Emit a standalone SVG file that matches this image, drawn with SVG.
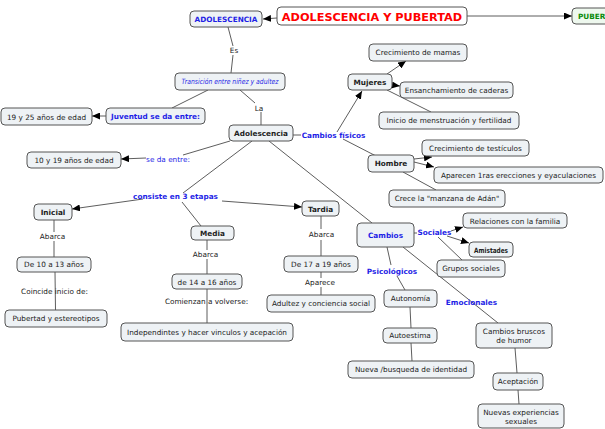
<svg xmlns="http://www.w3.org/2000/svg" width="605" height="429" viewBox="0 0 605 429">
<defs>
<marker id="arr" markerUnits="userSpaceOnUse" markerWidth="8" markerHeight="7" refX="8" refY="3.5" orient="auto">
<path d="M0,0 L8,3.5 L0,7 z" fill="#000"/>
</marker>
<style>
.n rect{fill:#eef2f5;stroke:#555;stroke-width:1}
.n text,.lb{font-family:"DejaVu Sans",Verdana,sans-serif;font-size:7.3px;fill:#222;text-anchor:middle}
.b{font-weight:bold}
.bl{fill:#1f1fe6 !important}
.lbb{font-family:"DejaVu Sans",Verdana,sans-serif;font-size:7.3px;fill:#1f1fe6;font-weight:bold;text-anchor:middle}
.lbn{font-family:"DejaVu Sans",Verdana,sans-serif;font-size:7.3px;fill:#1f1fe6;text-anchor:middle}
#conn path{stroke:#333;stroke-width:0.8;fill:none}
#conn path.a{marker-end:url(#arr)}
</style>
</defs>
<rect width="605" height="429" fill="#fff"/>
<g id="conn">
<path class="a" d="M277,18 L263,19"/>
<path class="a" d="M467,16 L572,16"/>
<path d="M228,27 L233,46"/>
<path d="M233,55 L231,73"/>
<path d="M208,90 L172,108"/>
<path class="a" d="M106,116 L92,116"/>
<path d="M240,90 L255,103"/>
<path d="M261,112 L261,125"/>
<path d="M293,135 L301,135"/>
<path class="a" d="M337,132 L362,91"/>
<path d="M343,139 L376,156"/>
<path class="a" d="M387,74 L406,61"/>
<path class="a" d="M392,85 L400,86"/>
<path d="M387,90 L431,112"/>
<path class="a" d="M414,159 L432,157"/>
<path class="a" d="M414,162 L434,167"/>
<path d="M403,172 L436,190"/>
<path d="M230,141 L183,155"/>
<path class="a" d="M146,158 L121,159"/>
<path d="M252,141 L183,193"/>
<path class="a" d="M143,199 L72,209"/>
<path class="a" d="M222,201 L302,207"/>
<path d="M182,202 L201,226"/>
<path d="M54,220 L54,232"/>
<path d="M54,241 L54,257"/>
<path d="M55,272 L55.5,310"/>
<path d="M207,240 L207,250"/>
<path d="M207,259 L207,274"/>
<path d="M207,289 L207,323"/>
<path d="M321,216 L321,229"/>
<path d="M321,240 L321,256"/>
<path d="M321,272 L321,278"/>
<path d="M321,287 L321,295"/>
<path d="M269,141 L372,223"/>
<path d="M414,233 L417,233"/>
<path class="a" d="M451,231 L463,227"/>
<path class="a" d="M447,236 L469,243"/>
<path d="M438,237 L462,260"/>
<path d="M387,247 L391,265"/>
<path d="M397,276 L405,290"/>
<path d="M403,247 L498,323"/>
<path d="M410,307 L411,328"/>
<path d="M411,343 L412,361"/>
<path d="M515,348 L517,373"/>
<path d="M518,390 L519,404"/>
</g>
<g id="labels">
<text class="lb" x="234" y="53">Es</text>
<text class="lb" x="259" y="111">La</text>
<text class="lbb" x="333.5" y="137.5">Cambios físicos</text>
<text class="lbn" x="168" y="161.5">se da entre:</text>
<text class="lbb" x="175.5" y="199">consiste en 3 etapas</text>
<text class="lb" x="52.5" y="239">Abarca</text>
<text class="lb" x="54.5" y="294">Coincide inicio de:</text>
<text class="lb" x="205.5" y="257">Abarca</text>
<text class="lb" x="206.5" y="304">Comienzan a volverse:</text>
<text class="lb" x="321.5" y="237">Abarca</text>
<text class="lb" x="320" y="285">Aparece</text>
<text class="lbb" x="434.5" y="235">Sociales</text>
<text class="lbb" x="392" y="273.5">Psicológicos</text>
<text class="lbb" x="471.5" y="305">Emocionales</text>
</g>
<g id="n-adol-top" class="n"><rect x="190" y="11" width="72" height="16" rx="4"/><text class="b bl" x="226" y="22">ADOLESCENCIA</text></g>
<g id="n-title"><rect x="277" y="7" width="190" height="18" rx="4" fill="#fff" stroke="#555"/><text x="372" y="20.5" font-family="DejaVu Sans,Verdana,sans-serif" font-size="11.3" font-weight="bold" fill="#ff0000" text-anchor="middle">ADOLESCENCIA Y PUBERTAD</text></g>
<g id="n-pubertad"><rect x="572" y="8" width="70" height="16" rx="4" fill="#eef8ee" stroke="#555"/><text x="578" y="19" font-family="DejaVu Sans,Verdana,sans-serif" font-size="7.3" font-weight="bold" fill="#0a8a0a">PUBERTAD</text></g>
<g id="n-transicion" class="n"><rect x="175" y="73" width="110" height="17" rx="4"/><text class="bl" x="230" y="84" font-style="italic" textLength="97" lengthAdjust="spacingAndGlyphs">Transición entre niñez y adultez</text></g>
<g id="n-juventud" class="n"><rect x="106" y="108" width="99" height="16" rx="4"/><text class="b bl" x="155.5" y="119">Juventud se da entre:</text></g>
<g id="n-19y25" class="n"><rect x="1" y="108" width="91" height="17" rx="4"/><text x="46.5" y="119.5">19 y 25 años de edad</text></g>
<g id="n-adolescencia" class="n"><rect x="229" y="125" width="64" height="16" rx="4"/><text class="b" x="261" y="136">Adolescencia</text></g>
<g id="n-mujeres" class="n"><rect x="348" y="74" width="44" height="16" rx="4"/><text class="b" x="370" y="85">Mujeres</text></g>
<g id="n-mamas" class="n"><rect x="369" y="44" width="98" height="17" rx="4"/><text x="418" y="55">Crecimiento de mamas</text></g>
<g id="n-caderas" class="n"><rect x="400" y="82" width="113" height="16" rx="4"/><text x="456.5" y="93">Ensanchamiento de caderas</text></g>
<g id="n-menstruacion" class="n"><rect x="379" y="112" width="140" height="17" rx="4"/><text x="449" y="123">Inicio de menstruación y fertilidad</text></g>
<g id="n-hombre" class="n"><rect x="368" y="155" width="46" height="17" rx="4"/><text class="b" x="391" y="166">Hombre</text></g>
<g id="n-testiculos" class="n"><rect x="422" y="140" width="107" height="16" rx="4"/><text x="475.5" y="150.5">Crecimiento de testículos</text></g>
<g id="n-erecciones" class="n"><rect x="434" y="167" width="169" height="16" rx="4"/><text x="518.5" y="178">Aparecen 1ras erecciones y eyaculaciones</text></g>
<g id="n-manzana" class="n"><rect x="389" y="190" width="116" height="17" rx="4"/><text x="447" y="201">Crece la "manzana de Adán"</text></g>
<g id="n-10y19" class="n"><rect x="27" y="152" width="94" height="16" rx="4"/><text x="74" y="163">10 y 19 años de edad</text></g>
<g id="n-inicial" class="n"><rect x="34" y="204" width="38" height="16" rx="4"/><text class="b" x="53" y="215">Inicial</text></g>
<g id="n-10a13" class="n"><rect x="17" y="257" width="74" height="15" rx="4"/><text x="54" y="267">De 10 a 13 años</text></g>
<g id="n-pubertad-est" class="n"><rect x="5" y="310" width="102" height="17" rx="4"/><text x="56" y="321">Pubertad y estereotipos</text></g>
<g id="n-media" class="n"><rect x="191" y="226" width="43" height="14" rx="4"/><text class="b" x="212.5" y="236">Media</text></g>
<g id="n-14a16" class="n"><rect x="172" y="274" width="70" height="15" rx="4"/><text x="207" y="284.5">de 14 a 16 años</text></g>
<g id="n-independ" class="n"><rect x="121" y="323" width="172" height="18" rx="4"/><text x="207" y="334.5">Independintes y hacer vinculos y acepación</text></g>
<g id="n-tardia" class="n"><rect x="302" y="201" width="37" height="15" rx="4"/><text class="b" x="320.5" y="211.5">Tardia</text></g>
<g id="n-17a19" class="n"><rect x="284" y="256" width="74" height="16" rx="4"/><text x="321" y="267">De 17 a 19 años</text></g>
<g id="n-adultez" class="n"><rect x="267" y="295" width="108" height="17" rx="4"/><text x="321" y="306">Adultez y conciencia social</text></g>
<g id="n-cambios" class="n"><rect x="357" y="223" width="57" height="24" rx="4"/><text class="b bl" x="385.5" y="238">Cambios</text></g>
<g id="n-familia" class="n"><rect x="463" y="213" width="104" height="15" rx="4"/><text x="515" y="223.5">Relaciones con la familia</text></g>
<g id="n-amistades" class="n"><rect x="469" y="242" width="44" height="15" rx="4"/><text class="b" x="491" y="252.5" font-size="6" textLength="34" lengthAdjust="spacingAndGlyphs">Amistades</text></g>
<g id="n-grupos" class="n"><rect x="437" y="260" width="68" height="17" rx="4"/><text x="471" y="271">Grupos sociales</text></g>
<g id="n-autonomia" class="n"><rect x="384" y="290" width="53" height="17" rx="4"/><text x="410.5" y="301">Autonomía</text></g>
<g id="n-autoestima" class="n"><rect x="383" y="328" width="54" height="15" rx="4"/><text x="410" y="338">Autoestima</text></g>
<g id="n-identidad" class="n"><rect x="348" y="361" width="126" height="17" rx="4"/><text x="411" y="372">Nueva /busqueda de identidad</text></g>
<g id="n-humor" class="n"><rect x="476" y="323" width="76" height="25" rx="4"/><text x="514" y="334">Cambios bruscos</text><text x="514" y="343">de humor</text></g>
<g id="n-aceptacion" class="n"><rect x="493" y="373" width="50" height="17" rx="4"/><text x="518" y="384">Aceptación</text></g>
<g id="n-experiencias" class="n"><rect x="478" y="404" width="86" height="24" rx="4"/><text x="521" y="414.5">Nuevas experiencias</text><text x="521" y="423.5">sexuales</text></g>
</svg>
